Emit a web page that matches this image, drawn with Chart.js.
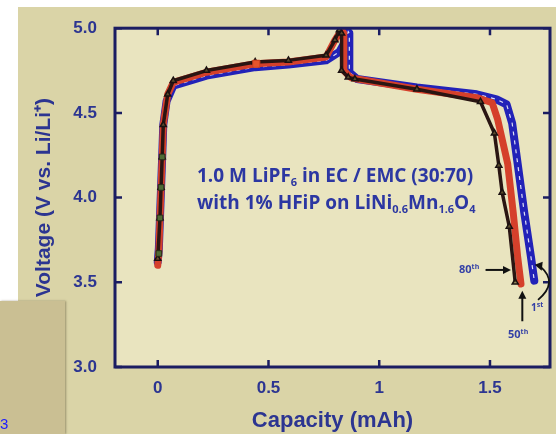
<!DOCTYPE html>
<html>
<head>
<meta charset="utf-8">
<script src="https://cdn.jsdelivr.net/npm/chart.js@4.4.1/dist/chart.umd.min.js"></script>
<style>
  body { margin: 0; background: #fff; width: 556px; height: 434px; overflow: hidden; position: relative; }
  .bg { position: absolute; left: 18px; top: 7px; right: 0; bottom: 0; background: #dad4a7; }
  #wrap { position: absolute; left: 0; top: 0; width: 556px; height: 434px; }
  .note { position: absolute; color: #2c37a2; font-family: "Open Sans", sans-serif; font-weight: 700; font-size: 19px; line-height: 24px; white-space: nowrap; }
  .note sub { font-size: 11px; vertical-align: -4px; line-height: 0; }
  .cyc { position: absolute; color: #3440a6; font-family: "Open Sans", sans-serif; font-weight: 700; font-size: 11px; line-height: 14px; white-space: nowrap; }
  .cyc sup { font-size: 7px; vertical-align: 4px; line-height: 0; }
  .box { position: absolute; left: 0; top: 301px; width: 65px; height: 133px; background: #cabf93; box-shadow: 1px 0 2px rgba(90,80,50,0.5); }
  .box span { position: absolute; left: 0; top: 114px; color: #1a1aff; font-family: "Liberation Sans", Arial, sans-serif; font-size: 15px; }
</style>
</head>
<body>
<div class="bg"></div>
<div id="wrap"><canvas id="chart" width="556" height="434"></canvas></div>
<div class="note" style="left:197px; top:163px;">1.0 M LiPF<sub>6</sub> in EC / EMC (30:70)</div>
<div class="note" style="left:197px; top:190px;">with 1% HFiP on LiNi<sub>0.6</sub>Mn<sub>1.6</sub>O<sub>4</sub></div>
<div class="cyc" style="left:459px; top:262px;">80<sup>th</sup></div>
<div class="cyc" style="left:508px; top:327px;">50<sup>th</sup></div>
<div class="cyc" style="left:531px; top:300px; font-size:10px;">1<sup>st</sup></div>
<div class="box"><span>3</span></div>
<script>
// tick values
const xTicks = [0, 0.5, 1, 1.5];
const yTicks = [3.0, 3.5, 4.0, 4.5, 5.0];

// 1st cycle (charge then discharge)
const cap1st = [0.00, 0.005, 0.01, 0.015, 0.02, 0.025, 0.04, 0.07, 0.22, 0.44, 0.59, 0.76, 0.82, 0.85, 0.86,
  0.865, 0.865, 0.90, 1.17, 1.44, 1.53, 1.575, 1.60, 1.625, 1.655, 1.685, 1.70];
const volt1st = [3.62, 3.70, 3.88, 4.06, 4.24, 4.43, 4.57, 4.66, 4.72, 4.77, 4.785, 4.81, 4.86, 4.93, 4.98,
  4.97, 4.74, 4.70, 4.65, 4.61, 4.58, 4.55, 4.44, 4.20, 3.91, 3.65, 3.51];

// 50th cycle
const cap50th = [0.00, 0.005, 0.01, 0.015, 0.02, 0.025, 0.045, 0.07, 0.22, 0.44, 0.59, 0.76, 0.80, 0.83,
  0.84, 0.84, 0.87, 0.90, 1.17, 1.44, 1.51, 1.535, 1.58, 1.605, 1.625, 1.64];
const volt50th = [3.60, 3.68, 3.88, 4.06, 4.24, 4.43, 4.61, 4.68, 4.74, 4.79, 4.80, 4.83, 4.93, 4.99,
  4.97, 4.75, 4.71, 4.70, 4.64, 4.59, 4.56, 4.46, 4.20, 3.91, 3.65, 3.49];

// 80th cycle
const cap80th = [0.00, 0.01, 0.015, 0.02, 0.025, 0.045, 0.07, 0.22, 0.44, 0.59, 0.76, 0.80, 0.82,
  0.83, 0.83, 0.86, 0.89, 1.17, 1.457, 1.52, 1.54, 1.555, 1.587, 1.614];
const volt80th = [3.64, 3.88, 4.06, 4.24, 4.43, 4.61, 4.69, 4.75, 4.80, 4.81, 4.84, 4.93, 4.99,
  4.97, 4.75, 4.71, 4.70, 4.64, 4.566, 4.38, 4.19, 4.03, 3.83, 3.50];

// green square markers on the charge step
const capGreen = [0.02, 0.015, 0.01, 0.005];
const voltGreen = [4.24, 4.06, 3.88, 3.67];

// orange marker on the charge plateau
const capOrange = [0.445];
const voltOrange = [4.79];

const navy = '#1b1d62';
const labelBlue = '#2c3591';

function pts(xs, ys) {
  return xs.map((x, i) => ({ x: x, y: ys[i] }));
}

// plot background, closed frame and inward ticks on all sides
const framePlugin = {
  id: 'frame',
  beforeDraw(chart) {
    const a = chart.chartArea, ctx = chart.ctx;
    ctx.save();
    ctx.fillStyle = '#e9e4bf';
    ctx.fillRect(a.left, a.top, a.right - a.left, a.bottom - a.top);
    ctx.restore();
  },
  afterDraw(chart) {
    const a = chart.chartArea, ctx = chart.ctx;
    const xs = chart.scales.x, ys = chart.scales.y;
    ctx.save();
    ctx.strokeStyle = navy;
    ctx.lineWidth = 3;
    ctx.strokeRect(a.left, a.top, a.right - a.left, a.bottom - a.top);
    ctx.lineWidth = 2.5;
    ctx.beginPath();
    xTicks.forEach(v => {
      const px = xs.getPixelForValue(v);
      ctx.moveTo(px, a.bottom); ctx.lineTo(px, a.bottom - 7);
      ctx.moveTo(px, a.top); ctx.lineTo(px, a.top + 7);
    });
    yTicks.forEach(v => {
      const py = ys.getPixelForValue(v);
      ctx.moveTo(a.left, py); ctx.lineTo(a.left + 7, py);
      ctx.moveTo(a.right, py); ctx.lineTo(a.right - 7, py);
    });
    ctx.stroke();

    // cycle arrows
    ctx.strokeStyle = '#111';
    ctx.fillStyle = '#111';
    ctx.lineWidth = 2;
    const arrow = (x1, y1, x2, y2) => {
      const p1x = xs.getPixelForValue(x1), p1y = ys.getPixelForValue(y1);
      const p2x = xs.getPixelForValue(x2), p2y = ys.getPixelForValue(y2);
      const ang = Math.atan2(p2y - p1y, p2x - p1x);
      ctx.beginPath();
      ctx.moveTo(p1x, p1y);
      ctx.lineTo(p2x - 5 * Math.cos(ang), p2y - 5 * Math.sin(ang));
      ctx.stroke();
      ctx.beginPath();
      ctx.moveTo(p2x, p2y);
      ctx.lineTo(p2x - 8 * Math.cos(ang) + 4 * Math.sin(ang), p2y - 8 * Math.sin(ang) - 4 * Math.cos(ang));
      ctx.lineTo(p2x - 8 * Math.cos(ang) - 4 * Math.sin(ang), p2y - 8 * Math.sin(ang) + 4 * Math.cos(ang));
      ctx.closePath();
      ctx.fill();
    };
    arrow(1.48, 3.573, 1.595, 3.573);   // 80th
    arrow(1.646, 3.27, 1.646, 3.45);    // 50th

    // curved arrow for 1st
    const bx = xs.getPixelForValue(1.717), by = ys.getPixelForValue(3.396);
    const tx = xs.getPixelForValue(1.72), ty = ys.getPixelForValue(3.597);
    const kx = xs.getPixelForValue(1.81), ky = ys.getPixelForValue(3.50);
    ctx.lineWidth = 1.8;
    ctx.beginPath();
    ctx.moveTo(bx, by);
    ctx.quadraticCurveTo(kx, ky, tx + 2, ty + 1);
    ctx.stroke();
    ctx.beginPath();
    ctx.moveTo(tx - 4, ty - 1);
    ctx.lineTo(tx + 4, ty - 4);
    ctx.lineTo(tx + 3, ty + 5);
    ctx.closePath();
    ctx.fill();
    ctx.restore();
  }
};

const ctx = document.getElementById('chart').getContext('2d');
// first dataset in the list is drawn on top
new Chart(ctx, {
  type: 'scatter',
  data: {
    datasets: [
      {
        label: 'orange',
        data: pts(capOrange, voltOrange),
        showLine: false,
        pointStyle: 'rect',
        pointRadius: 5,
        pointBackgroundColor: '#e8552c',
        pointBorderColor: '#d04020',
        pointBorderWidth: 1
      },
      {
        label: 'green',
        data: pts(capGreen, voltGreen),
        showLine: false,
        pointStyle: 'rect',
        pointRadius: 4,
        pointBackgroundColor: '#4f6b34',
        pointBorderColor: '#2a2a18',
        pointBorderWidth: 1
      },
      {
        label: '80th',
        data: pts(cap80th, volt80th),
        showLine: true,
        borderColor: '#2a1512',
        borderWidth: 3.5,
        pointStyle: 'triangle',
        pointRadius: 3.5,
        pointBackgroundColor: 'rgba(120,110,60,0.6)',
        pointBorderColor: '#1a1010',
        pointBorderWidth: 1.5,
        borderJoinStyle: 'round'
      },
      {
        label: '50th',
        data: pts(cap50th, volt50th),
        showLine: true,
        borderColor: '#d5402b',
        borderWidth: 7,
        pointRadius: 0,
        borderJoinStyle: 'round',
        borderCapStyle: 'round'
      },
      {
        label: '1st centre',
        data: pts(cap1st, volt1st),
        showLine: true,
        borderColor: 'rgba(255,255,255,0.85)',
        borderWidth: 1.2,
        borderDash: [4, 5],
        pointRadius: 0
      },
      {
        label: '1st',
        data: pts(cap1st, volt1st),
        showLine: true,
        borderColor: '#2222b8',
        borderWidth: 8,
        pointRadius: 0,
        borderJoinStyle: 'round',
        borderCapStyle: 'round'
      }
    ]
  },
  options: {
    responsive: false,
    animation: false,
    devicePixelRatio: 1,
    layout: { padding: { left: 32, top: 28, right: 3, bottom: 0 } },
    plugins: {
      legend: { display: false },
      tooltip: { enabled: false }
    },
    scales: {
      x: {
        type: 'linear',
        min: -0.193,
        max: 1.771,
        afterBuildTicks: s => { s.ticks = xTicks.map(v => ({ value: v })); },
        afterFit: s => { s.height = 67; },
        grid: { display: false, drawTicks: false },
        border: { display: false },
        ticks: {
          padding: 11,
          color: labelBlue,
          font: { family: "'Liberation Sans', Arial, sans-serif", size: 17, weight: 'bold' },
          callback: v => String(v)
        },
        title: {
          display: true,
          text: 'Capacity (mAh)',
          color: labelBlue,
          padding: 0,
          font: { family: "'Liberation Sans', Arial, sans-serif", size: 22, weight: 'bold' }
        }
      },
      y: {
        min: 3.0,
        max: 5.0,
        afterBuildTicks: s => { s.ticks = yTicks.map(v => ({ value: v })); },
        afterFit: s => { s.width = 83; },
        grid: { display: false, drawTicks: false },
        border: { display: false },
        ticks: {
          padding: 18,
          color: labelBlue,
          font: { family: "'Liberation Sans', Arial, sans-serif", size: 17, weight: 'bold' },
          callback: v => v.toFixed(1)
        },
        title: {
          display: true,
          text: 'Voltage (V vs. Li/Li⁺)',
          color: labelBlue,
          padding: 0,
          font: { family: "'Liberation Sans', Arial, sans-serif", size: 21, weight: 'bold' }
        }
      }
    }
  },
  plugins: [framePlugin]
});
</script>
</body>
</html>
